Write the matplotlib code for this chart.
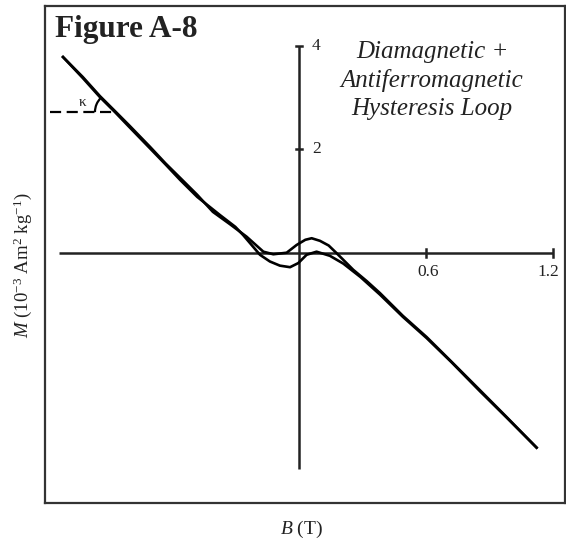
import matplotlib
matplotlib.use("Agg")
import numpy as np
import matplotlib.pyplot as plt
from matplotlib.patches import Arc

plt.rcParams['font.family'] = ['Liberation Serif', 'DejaVu Serif']
plt.rcParams['mathtext.fontset'] = 'custom'
plt.rcParams['mathtext.rm'] = 'Liberation Serif'
plt.rcParams['mathtext.it'] = 'Liberation Serif:italic'

# ---- data ----
# descending branch (positive bump near origin)
B_upper = [-1.113, -1.02, -0.939, -0.868, -0.80, -0.703, -0.63, -0.561, -0.48, -0.406,
           -0.325, -0.247, -0.168, -0.121, -0.058, -0.011, 0.030, 0.060, 0.099, 0.140,
           0.178, 0.256, 0.320, 0.382, 0.49, 0.602, 0.72, 0.854, 0.98, 1.121]
M_upper = [3.785, 3.40, 3.03, 2.74, 2.46, 2.05, 1.73, 1.45, 1.12, 0.79,
           0.55, 0.31, 0.02, -0.03, 0.0, 0.15, 0.25, 0.28, 0.23, 0.14,
           -0.01, -0.33, -0.55, -0.78, -1.22, -1.63, -2.11, -2.66, -3.18, -3.77]
# ascending branch (negative dip near origin)
B_lower = [-1.113, -1.02, -0.939, -0.868, -0.80, -0.703, -0.63, -0.561, -0.48, -0.373,
           -0.30, -0.263, -0.184, -0.137, -0.09, -0.042, -0.003, 0.036, 0.083, 0.146,
           0.209, 0.29, 0.382, 0.49, 0.602, 0.72, 0.854, 0.98, 1.121]
M_lower = [3.785, 3.38, 3.01, 2.72, 2.43, 2.02, 1.71, 1.41, 1.08, 0.73,
           0.50, 0.34, -0.04, -0.17, -0.25, -0.28, -0.20, -0.04, 0.02, -0.06,
           -0.21, -0.47, -0.81, -1.24, -1.65, -2.12, -2.68, -3.19, -3.77]

x_ticks = [0.6, 1.2]
x_tick_labels = ["0.6", "1.2"]
y_ticks = [2, 4]
y_tick_labels = ["2", "4"]
x_axis_range = [-1.13, 1.2]
y_axis_range = [-4.18, 4.0]
kappa_level = 2.72          # M where the dashed line meets the curve
kappa_B = -0.868
kappa_dash_start = -1.175

W, H = 566, 548
fig = plt.figure(figsize=(W / 100, H / 100), dpi=100)
ax = fig.add_axes([45 / W, 1 - 503 / H, 520 / W, 497 / H])
ax.set_xlim(-1.198, 1.255)
ax.set_ylim(-4.841, 4.772)
ax.set_xticks([])
ax.set_yticks([])
for s in ax.spines.values():
    s.set_linewidth(1.6)
    s.set_color('#333333')

axc = '#222222'
# axes through origin
ax.plot(x_axis_range, [0, 0], color=axc, lw=1.8, solid_capstyle='butt')
ax.plot([0, 0], y_axis_range, color=axc, lw=1.8, solid_capstyle='butt')
for xt, lab, dx in zip(x_ticks, x_tick_labels, [2, -5]):
    ax.plot([xt, xt], [-0.08, 0.08], color=axc, lw=1.8)
    ax.annotate(lab, (xt, 0), xytext=(dx, -19), textcoords='offset pixels',
                ha='center', va='center', fontsize=12.5, color='#222222')
for yt, lab in zip(y_ticks, y_tick_labels):
    ax.plot([-0.015, 0.015], [yt, yt], color=axc, lw=1.8)
    ax.annotate(lab, (0, yt), xytext=(13, 0), textcoords='offset pixels',
                ha='left', va='center', fontsize=12.5, color='#222222')

# loop
ax.plot(B_upper, M_upper, color='black', lw=1.9, solid_joinstyle='round')
ax.plot(B_lower, M_lower, color='black', lw=1.9, solid_joinstyle='round')

# kappa construction
ax.plot([kappa_dash_start, kappa_B], [kappa_level, kappa_level], color='black',
        lw=1.6, dashes=(5, 2.5))
sx = 520 / (1.255 + 1.198)   # px per data unit
sy = 497 / (4.772 + 4.841)
r = 20
screen_angle = np.deg2rad(134)
theta1 = np.rad2deg(np.arctan2(np.sin(screen_angle) / sy, np.cos(screen_angle) / sx))
ax.add_patch(Arc((kappa_B, kappa_level), 2 * r / sx, 2 * r / sy, theta1=theta1, theta2=180,
                 color='black', lw=1.6))
ax.annotate('κ', (kappa_B, kappa_level), xytext=(-32, 10), textcoords='offset pixels',
            ha='center', va='center', fontsize=11, color='#222222')

# texts
fig.text(55 / W, 1 - 37 / H, 'Figure A-8', fontsize=22.5, fontweight='bold',
         ha='left', va='baseline', color='#222222')
for txt, yb in zip(['Diamagnetic +', 'Antiferromagnetic', 'Hysteresis Loop'], [58, 87, 115]):
    fig.text(432 / W, 1 - yb / H, txt, fontsize=18, style='italic', ha='center',
             va='baseline', color='#222222')
fig.text(23 / W, 1 - 265 / H, r'$\mathit{M}$ (10$^{-3}$ Am$^{2}$ kg$^{-1}$)', rotation=90,
         fontsize=13.5, ha='center', va='center', color='#222222')
fig.text(301 / W, 1 - 529 / H, r'$\mathit{B}$ (T)', fontsize=14, ha='center', va='center',
         color='#222222')

fig.savefig('out.png', dpi=100)
